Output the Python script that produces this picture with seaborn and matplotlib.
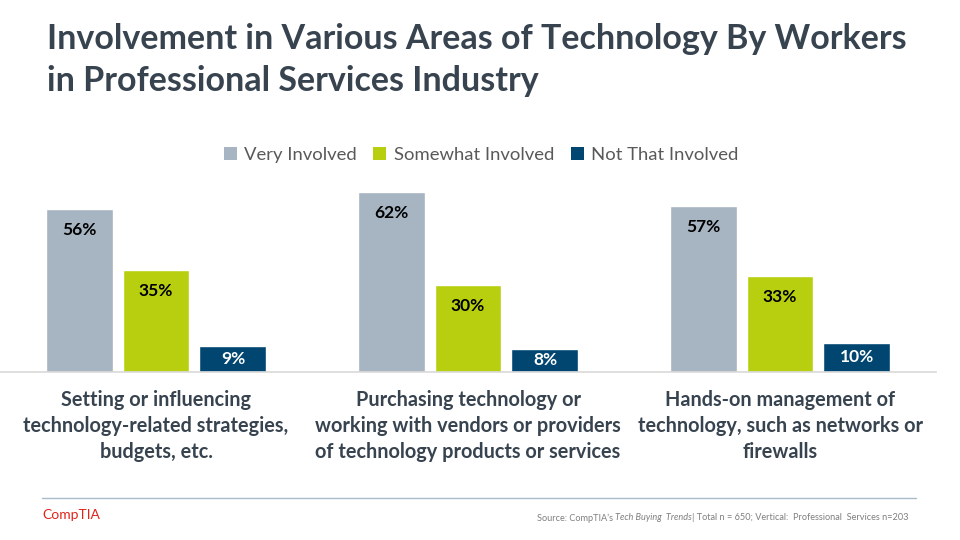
import matplotlib
matplotlib.use("Agg")
import matplotlib.pyplot as plt
import seaborn as sns
import pandas as pd
from matplotlib.patches import Patch
from matplotlib.lines import Line2D

# ---- data ----
categories = [
    "Setting or influencing\ntechnology-related strategies,\nbudgets, etc.",
    "Purchasing technology or\nworking with vendors or providers\nof technology products or services",
    "Hands-on management of\ntechnology, such as networks or\nfirewalls",
]
series_names = ["Very Involved", "Somewhat Involved", "Not That Involved"]
very_involved = [56, 62, 57]
somewhat_involved = [35, 30, 33]
not_that_involved = [9, 8, 10]
colors = ["#A7B4C2", "#B8CF10", "#004670"]
label_colors = ["#000000", "#000000", "#FFFFFF"]

title = "Involvement in Various Areas of Technology By Workers\nin Professional Services Industry"
source_parts = ["Source: CompTIA\u2019s ", "Tech Buying  Trends", "| Total n = 650; Vertical:  Professional  Services n=203"]

rows = []
for vals, s in zip([very_involved, somewhat_involved, not_that_involved], series_names):
    for c, v in zip(categories, vals):
        rows.append({"category": c, "series": s, "value": v})
df = pd.DataFrame(rows)

sns.set_theme(style="white")
plt.rcParams['font.family'] = ['Lato', 'DejaVu Sans']

W, H = 960, 540
fig = plt.figure(figsize=(9.6, 5.4), dpi=100)
ymax = 65
px_per_unit = 2.91
ax_h = ymax * px_per_unit
ax = fig.add_axes([0, (H - 372) / H, 936 / W, ax_h / H])

sns.barplot(data=df, x="category", y="value", hue="series", hue_order=series_names,
            order=categories, palette=colors, width=0.74, gap=0.13, ax=ax,
            legend=False, saturation=1, err_kws={'linewidth': 0})
ax.set_xlim(-0.5, 2.5)
ax.set_ylim(0, ymax)
ax.set_ylabel("")
ax.set_xlabel("")
ax.set_yticks([])
for sp in ["top", "left", "right"]:
    ax.spines[sp].set_visible(False)
ax.spines["bottom"].set_color("#D9D9D9")
ax.spines["bottom"].set_linewidth(1.2)
ax.tick_params(axis="x", length=0, pad=13)
ax.set_xticks(range(len(categories)))
ax.set_xticklabels(categories, fontsize=14.3, fontweight="bold", color="#37434F", linespacing=1.36)

for cont, lc in zip(ax.containers, label_colors):
    for bar in cont:
        h = bar.get_height()
        x = bar.get_x() + bar.get_width() / 2
        hp = h * px_per_unit
        if hp < 40:
            ax.annotate(f"{h:.0f}%", (x, h / 2), ha="center", va="center",
                        fontsize=12.5, fontweight="bold", color=lc)
        else:
            ax.annotate(f"{h:.0f}%", (x, h), xytext=(0, -21 * 0.72), textcoords="offset points",
                        ha="center", va="center", fontsize=12.5, fontweight="bold", color=lc)

# legend
handles = [Patch(facecolor=c, edgecolor="none") for c in colors]
fig.legend(handles, series_names, loc="center", bbox_to_anchor=(481 / W, 1 - 155 / H),
           ncol=3, frameon=False, fontsize=13.3, labelcolor="#595959",
           handlelength=0.7, handleheight=0.7, handletextpad=0.4, columnspacing=0.9)

# title
fig.text(47 / W, 1 - 60 / H, title, fontsize=24.5, fontweight="bold", color="#37434F",
         ha="left", va="center", linespacing=1.4)

# footer line
fig.add_artist(Line2D([42 / W, 916 / W], [1 - 498 / H, 1 - 498 / H], color="#A9BCCB", lw=1.0,
                      transform=fig.transFigure))
fig.text(42 / W, 1 - 515 / H, "CompTIA", fontsize=10, color="#E2231A", ha="left", va="center")

renderer = fig.canvas.get_renderer()
x0 = 537
styles = ["normal", "italic", "normal"]
for part, st in zip(source_parts, styles):
    t = fig.text(x0 / W, 1 - 518 / H, part, fontsize=6.6, color="#7F7F7F", style=st,
                 ha="left", va="center")
    bb = t.get_window_extent(renderer=renderer)
    x0 += bb.width

fig.savefig("out.png", dpi=100)
